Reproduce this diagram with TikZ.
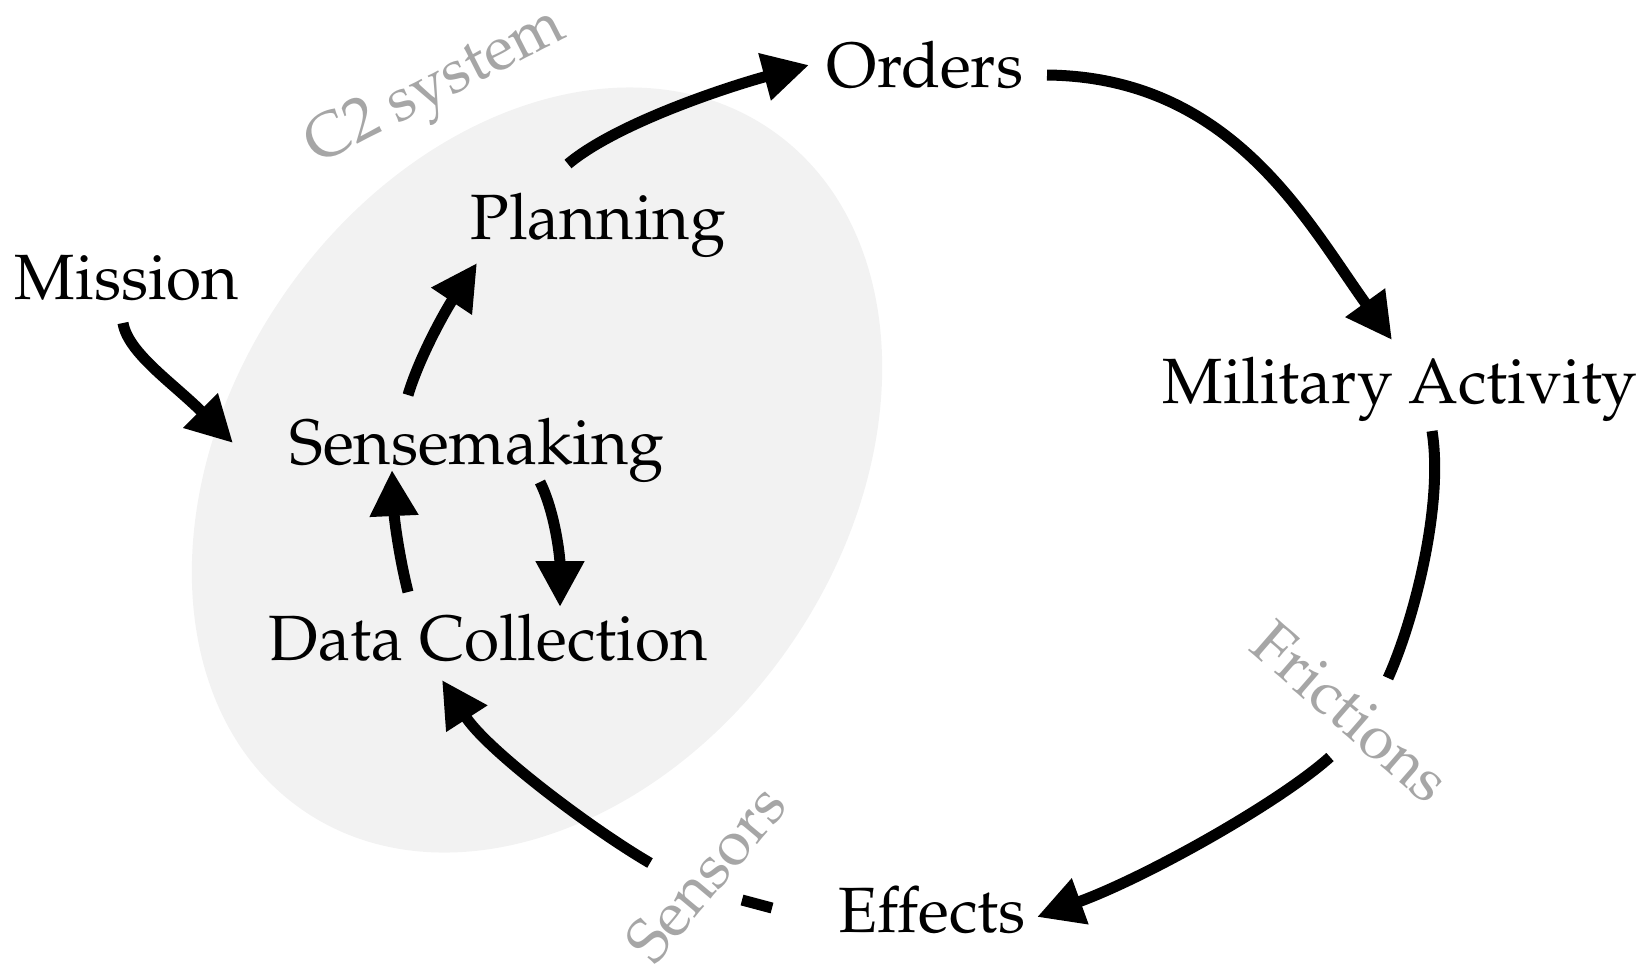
\documentclass[tikz,border=0pt]{standalone}
\usepackage[T1]{fontenc}
\usepackage{palatino}
\usetikzlibrary{arrows.meta,calc}
\definecolor{zonegray}{HTML}{F2F2F2}
\definecolor{labelgray}{HTML}{A6A6A6}
\tikzset{
  stage/.style={anchor=base,inner sep=0pt,font=\fontsize{32}{38}\selectfont},
  tag/.style={inner sep=0pt,text=labelgray,font=\fontsize{31}{37}\selectfont},
  flow/.style={line width=5.5pt,-{Triangle[length=23pt,width=23pt]}},
  bare/.style={line width=5.5pt}
}
\begin{document}
\begin{tikzpicture}[x=0.5pt,y=-0.5pt]
\path[use as bounding box] (0,0) rectangle (1641,966);

% C2 system zone
\fill[zonegray,rotate around={55.5:(537,470)}] (537,470) ellipse [x radius=206.5pt,y radius=154pt];

% stages
\node[stage] (orders)   at (925,87)  {Orders};
\node[stage] (planning) at (598,239) {Planning};
\node[stage] (mission)  at (127,299) {Mission};
\node[stage] (military) at (1400,403) {Military Activity};
\node[stage] (sense)    at (477,464) {Sensemaking};
\node[stage] (data)     at (488,660) {Data Collection};
\node[stage] (effects)  at (932,932) {Effects};

% grey labels
\node[tag,rotate=27]  (c2)        at (437,89)   {C2 system};
\node[tag,rotate=-41] (frictions) at (1351,712) {Frictions};
\node[tag,rotate=50]  (sensors)   at (706,873)  {Sensors};

% outer loop
\draw[flow] ([shift={(-30,-75)}]planning.base) .. controls +(50,-42) and +(-75,20) .. ([shift={(-116,-22)}]orders.base);
\draw[flow] ([shift={(122,-12)}]orders.base) .. controls +(185,2) and +(-85,-118) .. ([shift={(-8,-63)}]military.base);
\draw[bare] ([shift={(32,28)}]military.base) .. controls +(12,75) and +(25,-55) .. ([shift={(37,-34)}]frictions.center);
\draw[flow] ([shift={(-21,45)}]frictions.center) .. controls +(-50,45) and +(110,-40) .. ([shift={(105,-15)}]effects.base);
\draw[bare] ([shift={(-160,-24)}]effects.base) -- ([shift={(-190,-32)}]effects.base);
\draw[flow] ([shift={(-56,-10)}]sensors.center) .. controls +(-60,-35) and +(45,70) .. ([shift={(-46,20)}]data.base);

% inner loop
\draw[flow] ([shift={(-4,24)}]mission.base) .. controls +(5,30) and +(-60,-60) .. ([shift={(-244,-21)}]sense.base);
\draw[flow] ([shift={(-69,-69)}]sense.base) .. controls +(12,-40) and +(-30,45) .. ([shift={(-121,24)}]planning.base);
\draw[flow] ([shift={(-80,-68)}]data.base) .. controls +(-10,-40) and +(2,45) .. ([shift={(-85,6)}]sense.base);
\draw[flow] ([shift={(63,18)}]sense.base) .. controls +(15,30) and +(0,-50) .. ([shift={(72,-53)}]data.base);
\end{tikzpicture}
\end{document}
